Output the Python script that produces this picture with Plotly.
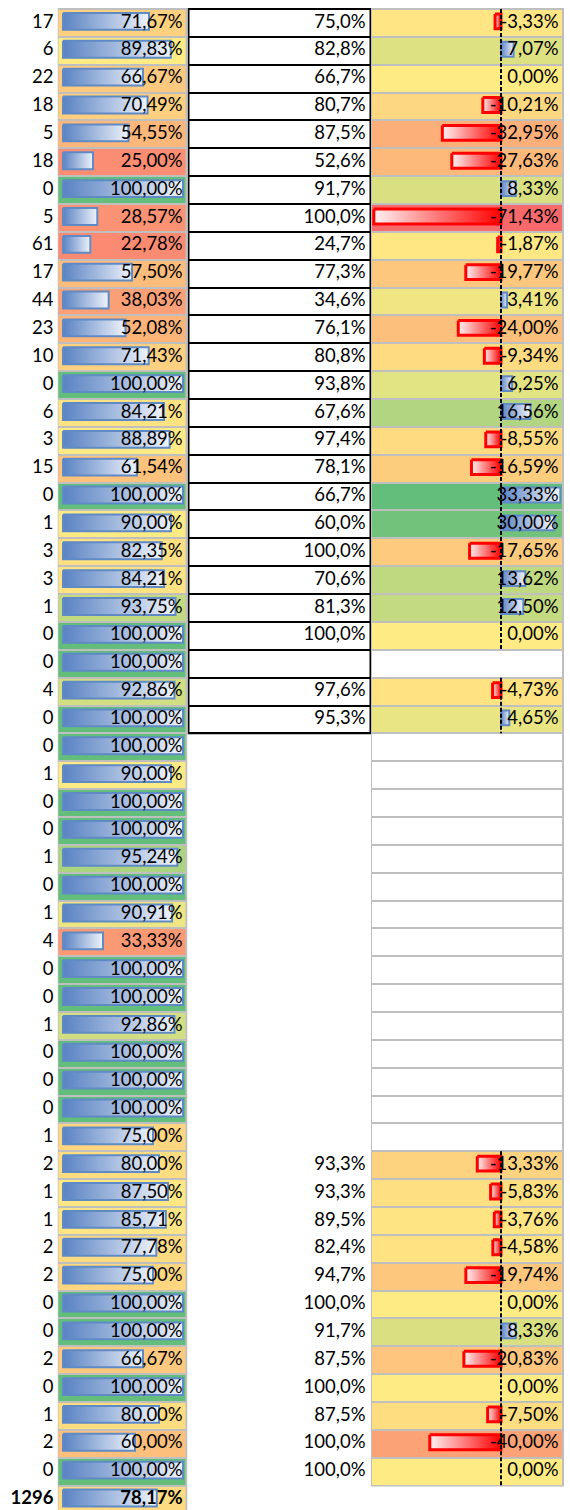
import numpy as np
import plotly.graph_objects as go

# ---------------- data ----------------
counts = [17, 6, 22, 18, 5, 18, 0, 5, 61, 17, 44, 23, 10, 0, 6, 3, 15, 0, 1, 3,
          3, 1, 0, 0, 4, 0,
          0, 1, 0, 0, 1, 0, 1, 4, 0, 0, 1, 0, 0, 0, 1,
          2, 1, 1, 2, 2, 0, 0, 2, 0, 1, 2, 0]
rates = [71.67, 89.83, 66.67, 70.49, 54.55, 25.00, 100.00, 28.57, 22.78, 57.50,
         38.03, 52.08, 71.43, 100.00, 84.21, 88.89, 61.54, 100.00, 90.00, 82.35,
         84.21, 93.75, 100.00, 100.00, 92.86, 100.00,
         100.00, 90.00, 100.00, 100.00, 95.24, 100.00, 90.91, 33.33, 100.00, 100.00,
         92.86, 100.00, 100.00, 100.00, 75.00,
         80.00, 87.50, 85.71, 77.78, 75.00, 100.00, 100.00, 66.67, 100.00, 80.00,
         60.00, 100.00]
prev_rates = [75.0, 82.8, 66.7, 80.7, 87.5, 52.6, 91.7, 100.0, 24.7, 77.3,
              34.6, 76.1, 80.8, 93.8, 67.6, 97.4, 78.1, 66.7, 60.0, 100.0,
              70.6, 81.3, 100.0, None, 97.6, 95.3] + [None] * 15 + \
             [93.3, 93.3, 89.5, 82.4, 94.7, 100.0, 91.7, 87.5, 100.0, 87.5, 100.0, 100.0]
diffs = [-3.33, 7.07, 0.00, -10.21, -32.95, -27.63, 8.33, -71.43, -1.87, -19.77,
         3.41, -24.00, -9.34, 6.25, 16.56, -8.55, -16.59, 33.33, 30.00, -17.65,
         13.62, 12.50, 0.00, None, -4.73, 4.65] + [None] * 15 + \
        [-13.33, -5.83, -3.76, -4.58, -19.74, 0.00, 8.33, -20.83, 0.00, -7.50, -40.00, 0.00]
total_count = 1296
total_rate = 78.17

# ---------------- geometry / style ----------------
W, H = 570, 1510
ROW_H = 27.86
TOP = 9.0
BORDER_ROWS = 26          # rows of column C drawn with black borders

def rows_px(p):
    return p / ROW_H

A_DOM = (0.0, 57.5)
B_DOM = (57.5, 187.5); B_ZERO = 63.0; B_PPU = 1.2
C_DOM = (187.5, 371.0)
D_DOM = (371.0, 564.0); D_ZERO = 501.0; D_PPU = 1.78

xr_A = list(A_DOM)
xr_B = [(B_DOM[0] - B_ZERO) / B_PPU, (B_DOM[1] - B_ZERO) / B_PPU]
xr_C = list(C_DOM)
xr_D = [(D_DOM[0] - D_ZERO) / D_PPU, (D_DOM[1] - D_ZERO) / D_PPU]

RED, YEL, GRN = "#F8696B", "#FFEB84", "#63BE7B"
GRID = "#BFBFBF"
BLUE_D, BLUE_L, BLUE_LINE = "#5A83C3", "#EEF2FA", "#5F8AC6"
RED_L, RED_D = "#FFF2F2", "#FF0000"
FONT = "Lato"
FS = 18.5

n = len(rates)
rows = list(range(1, n + 1))
total_row = n + 1
rates_all = rates + [total_rate]
rows_all = rows + [total_row]

def fmt2(v):
    return f"{v:.2f}".replace(".", ",") + "%"

def fmt1(v):
    return f"{v:.1f}".replace(".", ",") + "%"

def edges(rs):
    return [r - 0.5 for r in rs] + [rs[-1] + 0.5]

fig = go.Figure()

# ---------------- column B: colour scale background ----------------
b_min, b_max = 0.0, 100.0
b_mid = float(np.median(rates))
cs_B = [[0, RED], [(b_mid - b_min) / (b_max - b_min), YEL], [1, GRN]]
fig.add_trace(go.Heatmap(z=[[v] for v in rates_all], x=xr_B, y=edges(rows_all),
                         xaxis="x2", yaxis="y", colorscale=cs_B, zmin=b_min, zmax=b_max,
                         showscale=False, xgap=3, ygap=2, hoverinfo="skip"))

# ---------------- column C: white cells with black borders ----------------
c_rows = rows[:BORDER_ROWS]
fig.add_trace(go.Heatmap(z=[[0] for _ in c_rows], x=xr_C, y=edges(c_rows),
                         xaxis="x3", yaxis="y", colorscale=[[0, "white"], [1, "white"]],
                         showscale=False, xgap=4, ygap=2, hoverinfo="skip"))

# ---------------- column D: colour scale background ----------------
d_vals = [v for v in diffs if v is not None]
d_min, d_max, d_mid = min(d_vals), max(d_vals), 0.0
cs_D = [[0, RED], [(d_mid - d_min) / (d_max - d_min), YEL], [1, GRN]]
fig.add_trace(go.Heatmap(z=[[0] for _ in rows], x=xr_D, y=edges(rows),
                         xaxis="x4", yaxis="y", colorscale=[[0, "white"], [1, "white"]],
                         showscale=False, xgap=3, ygap=2, hoverinfo="skip"))
fig.add_trace(go.Heatmap(z=[[v] for v in diffs], x=xr_D, y=edges(rows),
                         xaxis="x4", yaxis="y", colorscale=cs_D, zmin=d_min, zmax=d_max,
                         showscale=False, xgap=3, ygap=2, hoverinfo="skip"))

# ---------------- column B data bars ----------------
for r, v in zip(rows_all, rates_all):
    yt = r - 0.5 + rows_px(4)
    yb = r + 0.5 - rows_px(7)
    fig.add_trace(go.Scatter(
        x=[0, v, v, 0, 0], y=[yt, yt, yb, yb, yt], xaxis="x2", yaxis="y",
        mode="lines", fill="toself",
        fillgradient=dict(type="horizontal", colorscale=[[0, BLUE_D], [1, BLUE_L]]),
        line=dict(color=BLUE_LINE, width=2), hoverinfo="skip", showlegend=False))

# ---------------- column D data bars ----------------
for r, v in zip(rows, diffs):
    if v is None or v == 0:
        continue
    yt = r - 0.5 + rows_px(5)
    yb = r + 0.5 - rows_px(8)
    if v < 0:
        fig.add_trace(go.Scatter(
            x=[v, 0, 0, v, v], y=[yt, yt, yb, yb, yt], xaxis="x4", yaxis="y",
            mode="lines", fill="toself",
            fillgradient=dict(type="horizontal", colorscale=[[0, RED_L], [1, RED_D]]),
            line=dict(color=RED_D, width=3), hoverinfo="skip", showlegend=False))
    else:
        fig.add_trace(go.Scatter(
            x=[0, v, v, 0, 0], y=[yt, yt, yb, yb, yt], xaxis="x4", yaxis="y",
            mode="lines", fill="toself",
            fillgradient=dict(type="horizontal", colorscale=[[0, BLUE_D], [1, BLUE_L]]),
            line=dict(color=BLUE_LINE, width=2), hoverinfo="skip", showlegend=False))

# ---------------- column D dashed axis ----------------
ax_x, ax_y = [], []
run_start = None
for r, v in zip(rows + [None], diffs + [None]):
    if v is not None and run_start is None:
        run_start = r
    elif v is None and run_start is not None:
        ax_x += [0, 0, None]
        ax_y += [run_start - 0.5, (r if r else total_row) - 0.5, None]
        run_start = None
fig.add_trace(go.Scatter(x=ax_x, y=ax_y, xaxis="x4", yaxis="y", mode="lines",
                         line=dict(color="black", width=2, dash="4px,2px"),
                         hoverinfo="skip", showlegend=False))

# ---------------- texts ----------------
tf = dict(family=FONT, size=FS, color="black")
tfb = dict(family=FONT, size=FS, color="black", weight="bold")

fig.add_trace(go.Scatter(x=[53.5] * n, y=rows, text=[str(c) for c in counts],
                         mode="text", textposition="middle left", textfont=tf,
                         xaxis="x", yaxis="y", hoverinfo="skip", showlegend=False))
fig.add_trace(go.Scatter(x=[53.5], y=[total_row], text=[str(total_count)],
                         mode="text", textposition="middle left", textfont=tfb,
                         xaxis="x", yaxis="y", hoverinfo="skip", showlegend=False,
                         cliponaxis=False))

fig.add_trace(go.Scatter(x=[99.75] * n, y=rows, text=[fmt2(v) for v in rates],
                         mode="text", textposition="middle left", textfont=tf,
                         xaxis="x2", yaxis="y", hoverinfo="skip", showlegend=False))
fig.add_trace(go.Scatter(x=[99.75], y=[total_row], text=[fmt2(total_rate)],
                         mode="text", textposition="middle left", textfont=tfb,
                         xaxis="x2", yaxis="y", hoverinfo="skip", showlegend=False,
                         cliponaxis=False))

c_r = [r for r, v in zip(rows, prev_rates) if v is not None]
c_t = [fmt1(v) for v in prev_rates if v is not None]
fig.add_trace(go.Scatter(x=[365.5] * len(c_r), y=c_r, text=c_t,
                         mode="text", textposition="middle left", textfont=tf,
                         xaxis="x3", yaxis="y", hoverinfo="skip", showlegend=False))

d_r = [r for r, v in zip(rows, diffs) if v is not None]
d_t = [fmt2(v) for v in diffs if v is not None]
fig.add_trace(go.Scatter(x=[32.3] * len(d_r), y=d_r, text=d_t,
                         mode="text", textposition="middle left", textfont=tf,
                         xaxis="x4", yaxis="y", hoverinfo="skip", showlegend=False))

# ---------------- borders (backgrounds behind gapped cells) ----------------
shapes = [
    dict(type="rect", xref="x2", yref="y", x0=xr_B[0], x1=xr_B[1],
         y0=0.5 - rows_px(1), y1=total_row + 0.5, fillcolor=GRID,
         line=dict(width=0), layer="below"),
    dict(type="rect", xref="x3", yref="y", x0=xr_C[0], x1=xr_C[1],
         y0=0.5 - rows_px(1), y1=BORDER_ROWS + 0.5 + rows_px(1), fillcolor="black",
         line=dict(width=0), layer="below"),
    dict(type="rect", xref="x4", yref="y", x0=xr_D[0], x1=xr_D[1],
         y0=0.5 - rows_px(1), y1=n + 0.5 + rows_px(1), fillcolor=GRID,
         line=dict(width=0), layer="below"),
]

y_range = [0.5 + (H - TOP) / ROW_H, 0.5 - TOP / ROW_H]

def xax(d, r):
    return dict(domain=[d[0] / W, d[1] / W], range=r, visible=False,
                fixedrange=True, anchor="y", showgrid=False, zeroline=False)

fig.update_layout(
    width=W, height=H, autosize=False,
    margin=dict(l=0, r=0, t=0, b=0, pad=0),
    paper_bgcolor="white", plot_bgcolor="white",
    showlegend=False,
    xaxis=xax(A_DOM, xr_A),
    xaxis2=xax(B_DOM, xr_B),
    xaxis3=xax(C_DOM, xr_C),
    xaxis4=xax(D_DOM, xr_D),
    yaxis=dict(domain=[0, 1], range=y_range, visible=False, fixedrange=True,
               anchor="x", showgrid=False, zeroline=False),
    shapes=shapes,
    font=dict(family=FONT, size=FS, color="black"),
)

fig.write_html("out.html", config={"displayModeBar": False},
               post_script="document.body.style.margin='0';"
                           "document.body.style.overflow='hidden';")
